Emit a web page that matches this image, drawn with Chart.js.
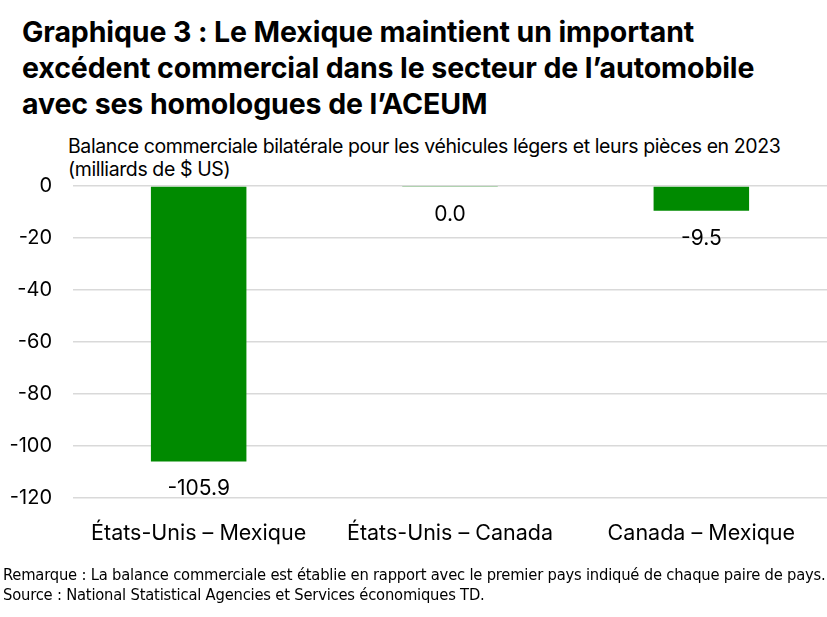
<!DOCTYPE html>
<html>
<head>
<meta charset="utf-8">
<script src="https://cdn.jsdelivr.net/npm/chart.js@4/dist/chart.umd.min.js"></script>
<style>
  html, body { margin: 0; padding: 0; background: #fff; }
  #wrap { position: relative; width: 827px; height: 617px; overflow: hidden; font-family: Inter, "Noto Sans", sans-serif; color: #000; }
  #title { position: absolute; left: 22px; top: 14px; font-size: 28.5px; font-weight: 700; line-height: 36px; letter-spacing: -0.1px; white-space: nowrap; }
  #sub { position: absolute; left: 68px; top: 135px; font-size: 19.5px; line-height: 23px; letter-spacing: -0.4px; white-space: nowrap; }
  #note { position: absolute; left: 3px; top: 565px; font-size: 16.4px; line-height: 20px; letter-spacing: -0.2px; white-space: nowrap; font-family: "Liberation Sans Narrow", "DejaVu Sans Condensed", sans-serif; }
  #box { position: absolute; left: 0; top: 153px; width: 827px; height: 415px; }
</style>
</head>
<body>
<div id="wrap">
  <div id="title">Graphique 3 : Le Mexique maintient un important<br>excédent commercial dans le secteur de l’automobile<br>avec ses homologues de l’ACEUM</div>
  <div id="sub">Balance commerciale bilatérale pour les véhicules légers et leurs pièces en 2023<br>(milliards de $ US)</div>
  <div id="box"><canvas id="c"></canvas></div>
  <div id="note">Remarque : La balance commerciale est établie en rapport avec le premier pays indiqué de chaque paire de pays.<br>Source : National Statistical Agencies et Services économiques TD.</div>
</div>
<script>
// ── DATA ──────────────────────────────────────────────────────────────────
const categories = ['États-Unis – Mexique', 'États-Unis – Canada', 'Canada – Mexique'];
const balance    = [-105.9, 0.0, -9.5];
const yTicks     = [0, -20, -40, -60, -80, -100, -120];

const GREEN = '#008a00';
const FONT  = 'Inter, "Noto Sans", sans-serif';

// value labels drawn just under the end of each bar
const valueLabels = {
  id: 'valueLabels',
  afterDatasetsDraw(chart) {
    const { ctx } = chart;
    const meta = chart.getDatasetMeta(0);
    ctx.save();
    ctx.font = '21px ' + FONT;
    ctx.fillStyle = '#000';
    ctx.textAlign = 'center';
    ctx.textBaseline = 'top';
    meta.data.forEach((bar, i) => {
      const y = Math.max(bar.y, bar.base);
      ctx.fillText(balance[i].toFixed(1), bar.x, y + 17);
    });
    ctx.restore();
  }
};

new Chart(document.getElementById('c'), {
  type: 'bar',
  data: {
    labels: categories,
    datasets: [{
      data: balance,
      backgroundColor: GREEN,
      borderWidth: 0,
      minBarLength: 1,
      barPercentage: 0.76,
      categoryPercentage: 0.5
    }]
  },
  options: {
    responsive: true,
    maintainAspectRatio: false,
    animation: false,
    layout: { padding: { top: 18, right: 0, left: 0, bottom: 0 } },
    plugins: { legend: { display: false }, tooltip: { enabled: false } },
    scales: {
      x: {
        grid: { display: false, drawTicks: false },
        border: { display: false },
        ticks: { color: '#000', padding: 22, font: { size: 21.5, family: FONT } }
      },
      y: {
        min: -120,
        max: 0,
        afterFit(scale) { scale.width = 73; },
        afterBuildTicks(scale) { scale.ticks = yTicks.map(v => ({ value: v })); },
        grid: { color: '#d9d9d9', lineWidth: 1.5, drawTicks: false },
        border: { display: false },
        ticks: { color: '#000', padding: 21, font: { size: 20, family: FONT } }
      }
    }
  },
  plugins: [valueLabels]
});
</script>
</body>
</html>
